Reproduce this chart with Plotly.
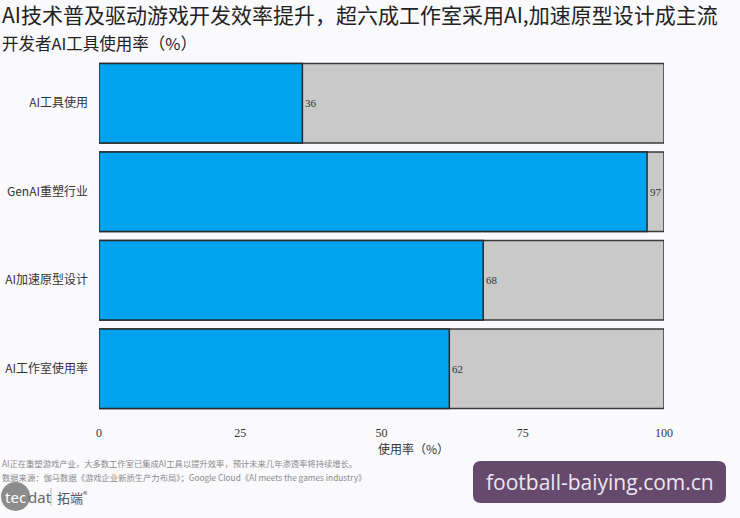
import plotly.graph_objects as go

categories = ["AI工具使用", "GenAI重塑行业", "AI加速原型设计", "AI工作室使用率"]
values = [36, 97, 68, 62]
full_scale = [100, 100, 100, 100]
x_ticks = [0, 25, 50, 75, 100]

title_text = "AI技术普及驱动游戏开发效率提升，超六成工作室采用AI,加速原型设计成主流"
subtitle_text = "开发者AI工具使用率（%）"
axis_title = "使用率（%）"
note_text = "AI正在重塑游戏产业，大多数工作室已集成AI工具以提升效率，预计未来几年渗透率将持续增长。"
source_text = "数据来源：伽马数据《游戏企业新质生产力布局》；Google Cloud《AI meets the games industry》"

W, H = 740, 518
L, R, T, B = 99, 76, 59, 105
PW, PH = W - L - R, H - T - B

def px(x):
    return (x - L) / PW

def py(y):
    return (H - B - y) / PH

SERIF = "Liberation Serif, Noto Sans CJK SC, serif"
CJK = "Noto Sans CJK SC, Liberation Serif, serif"

fig = go.Figure()
fig.add_trace(go.Bar(
    y=categories, x=full_scale, orientation="h", width=0.9,
    marker=dict(color="#C8C9C8", line=dict(color="#3a3a3a", width=1.5)),
    hoverinfo="skip", showlegend=False,
))
fig.add_trace(go.Bar(
    y=categories, x=values, orientation="h", width=0.9,
    marker=dict(color="#00A4EE", line=dict(color="#2a2a2a", width=1.5)),
    showlegend=False,
))

annotations = []
for c, v in zip(categories, values):
    annotations.append(dict(x=v, y=c, xref="x", yref="y", text=str(v), showarrow=False,
                            xanchor="left", xshift=1, font=dict(family=SERIF, size=11, color="#333")))

annotations += [
    dict(x=px(0), y=py(14), xref="paper", yref="paper", text=title_text, showarrow=False,
         xanchor="left", yanchor="middle", font=dict(family=CJK, size=21, color="#222")),
    dict(x=px(0), y=py(43), xref="paper", yref="paper", text=subtitle_text, showarrow=False,
         xanchor="left", yanchor="middle", font=dict(family=CJK, size=16.5, color="#222")),
    dict(x=px(376), y=py(448), xref="paper", yref="paper", text=axis_title, showarrow=False,
         xanchor="left", yanchor="middle", font=dict(family=CJK, size=12, color="#333")),
    dict(x=px(0), y=py(463), xref="paper", yref="paper", text=note_text, showarrow=False,
         xanchor="left", yanchor="middle", font=dict(family=CJK, size=8.3, color="#8a8a8a")),
    dict(x=px(0), y=py(477), xref="paper", yref="paper", text=source_text, showarrow=False,
         xanchor="left", yanchor="middle", font=dict(family=CJK, size=8.3, color="#8a8a8a")),
    dict(x=px(3), y=py(497), xref="paper", yref="paper", text="tec", showarrow=False,
         xanchor="left", yanchor="middle", font=dict(family="Noto Sans, sans-serif", size=15, color="#ffffff")),
    dict(x=px(26), y=py(497), xref="paper", yref="paper", text="dat", showarrow=False,
         xanchor="left", yanchor="middle", font=dict(family="Noto Sans, sans-serif", size=15, color="#666")),
    dict(x=px(55), y=py(497), xref="paper", yref="paper", text="拓端<sup>®</sup>", showarrow=False,
         xanchor="left", yanchor="middle", font=dict(family=CJK, size=13, color="#555")),
    dict(x=px(599.5), y=py(482), xref="paper", yref="paper", text="football-baiying.com.cn", showarrow=False,
         xanchor="center", yanchor="middle", font=dict(family="Open Sans, Noto Sans, sans-serif", size=21, color="#ECE6F2")),
]

# rounded watermark box
x0, x1, y0, y1, r = 473, 726, 461, 503, 8
path = (f"M {px(x0+r)},{py(y0)} L {px(x1-r)},{py(y0)} Q {px(x1)},{py(y0)} {px(x1)},{py(y0+r)} "
        f"L {px(x1)},{py(y1-r)} Q {px(x1)},{py(y1)} {px(x1-r)},{py(y1)} "
        f"L {px(x0+r)},{py(y1)} Q {px(x0)},{py(y1)} {px(x0)},{py(y1-r)} "
        f"L {px(x0)},{py(y0+r)} Q {px(x0)},{py(y0)} {px(x0+r)},{py(y0)} Z")
shapes = [
    dict(type="path", path=path, xref="paper", yref="paper", fillcolor="#654A6E", line=dict(width=0), layer="above"),
    dict(type="circle", xref="paper", yref="paper", x0=px(1), x1=px(30), y0=py(511), y1=py(482),
         fillcolor="#8C8C8C", line=dict(width=0), layer="below"),
    dict(type="line", xref="paper", yref="paper", x0=px(51), x1=px(51), y0=py(488), y1=py(506),
         line=dict(color="#bbb", width=1)),
]

fig.update_layout(
    width=W, height=H,
    margin=dict(l=L, r=R, t=T, b=B, autoexpand=False),
    barmode="overlay", bargap=0.1,
    paper_bgcolor="#FAF9FC", plot_bgcolor="#FAF9FC",
    xaxis=dict(range=[0, 100], tickvals=x_ticks, showgrid=False, zeroline=False, showline=False,
               ticks="", tickfont=dict(family=SERIF, size=12, color="#333"), fixedrange=True,
               ticklabelstandoff=11, automargin=False),
    yaxis=dict(autorange="reversed", showgrid=False, zeroline=False, showline=False, ticks="",
               ticklabelstandoff=10, tickfont=dict(family=CJK, size=12, color="#333"), automargin=False),
    annotations=annotations, shapes=shapes,
)

fig.write_html("out.html", config={"displayModeBar": False},
               post_script="document.body.style.margin='0';document.body.style.background='#FAF9FC';")
